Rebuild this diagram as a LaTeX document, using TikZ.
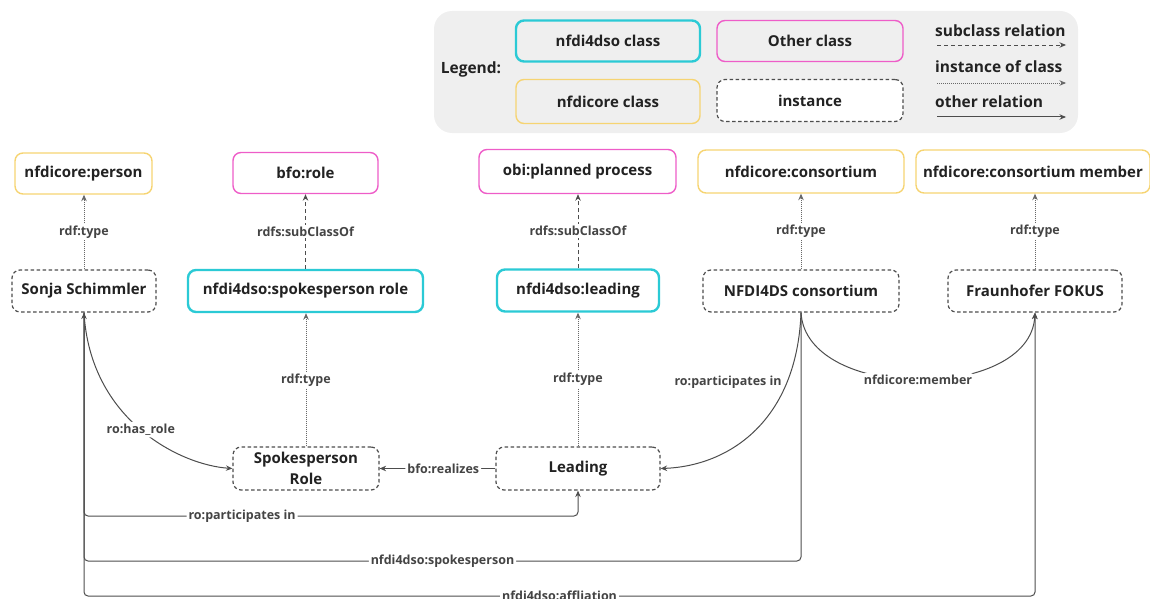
\documentclass[tikz,border=0pt]{standalone}
\usepackage{fontspec}
\setmainfont{Open Sans}
\usetikzlibrary{arrows.meta,calc}
\definecolor{cyanb}{HTML}{2BCAD5}
\definecolor{magb}{HTML}{EE5DC8}
\definecolor{yelb}{HTML}{F6D472}
\definecolor{legbg}{HTML}{EFEFEF}
\definecolor{ec}{HTML}{4D4D4D}
\definecolor{tc}{HTML}{222222}
\definecolor{lc}{HTML}{444444}
\tikzset{
 base/.style={rounded corners=8pt, minimum height=42pt, inner sep=2pt, font=\fontsize{15}{18}\selectfont\bfseries, text=tc, fill=white, align=center},
 d4/.style={base, draw=cyanb, line width=2.4pt},
 oth/.style={base, draw=magb, line width=1.4pt},
 core/.style={base, draw=yelb, line width=1.4pt},
 inst/.style={base, draw=ec, line width=1.2pt, dash pattern=on 3.5pt off 2.5pt},
 lbl/.style={font=\fontsize{12.5}{14}\selectfont\bfseries, text=lc, fill=white, inner sep=2pt},
 legtxt/.style={font=\fontsize{15.5}{18}\selectfont\bfseries, text=tc, inner sep=0pt},
 tip/.style={-{Stealth[length=6.5pt,width=5.5pt]}},
 subc/.style={tip, draw=ec, line width=0.9pt, dash pattern=on 4pt off 3pt},
 typ/.style={tip, draw=ec!85, line width=0.9pt, dash pattern=on 1pt off 1pt},
 rel/.style={tip, draw=ec, line width=1pt, rounded corners=4pt},
}
\begin{document}
\begin{tikzpicture}[x=1pt,y=-1pt]
\useasboundingbox (0,0) rectangle (1150,599);
% legend
\node[fill=legbg, rounded corners=18pt, minimum width=644pt, minimum height=122pt, inner sep=0] (legend) at (756,72) {};
\node[legtxt] (legt) at (471,69) {Legend:};
\node[d4, fill=legbg, minimum width=184pt, minimum height=41pt] (ld4) at (608,41) {nfdi4dso class};
\node[oth, fill=legbg, minimum width=186pt, minimum height=41pt] (loth) at (810,41) {Other class};
\node[core, fill=legbg, minimum width=184pt, minimum height=44pt] (lcore) at (608,101.5) {nfdicore class};
\node[inst, minimum width=186pt, minimum height=42pt] (linst) at (810,100.5) {instance};
\node[legtxt, anchor=west] (ls) at (935,31) {subclass relation};
\node[legtxt, anchor=west] (li) at (935,67) {instance of class};
\node[legtxt, anchor=west] (lo) at (935,102) {other relation};
\coordinate (ls1) at (937,45); \coordinate (ls2) at (1066,45);
\coordinate (li1) at (937,83); \coordinate (li2) at (1066,83);
\coordinate (lo1) at (937,117); \coordinate (lo2) at (1066,117);
\draw[subc] (ls1) -- (ls2);
\draw[typ] (li1) -- (li2);
\draw[rel] (lo1) -- (lo2);
% class row
\node[core, minimum width=137pt, minimum height=41pt] (person) at (83.5,173.5) {nfdicore:person};
\node[oth, minimum width=145pt, minimum height=41pt] (bforole) at (305.5,173) {bfo:role};
\node[oth, minimum width=197pt, minimum height=44pt] (obi) at (577.5,171.5) {obi:planned process};
\node[core, minimum width=206pt, minimum height=43pt] (cons) at (801,171.5) {nfdicore:consortium};
\node[core, minimum width=234pt, minimum height=43pt] (consm) at (1033,171.5) {nfdicore:consortium member};
% second row
\node[inst, minimum width=144pt] (sonja) at (84,291) {Sonja Schimmler};
\node[d4, minimum width=235pt] (sprole) at (305.5,291) {nfdi4dso:spokesperson role};
\node[d4, minimum width=162pt] (lead) at (578,290.5) {nfdi4dso:leading};
\node[inst, minimum width=196pt] (nfd) at (801,291) {NFDI4DS consortium};
\node[inst, minimum width=174pt] (fokus) at (1035,291) {Fraunhofer FOKUS};
% third row
\node[inst, minimum width=146pt, minimum height=43pt, font=\fontsize{15}{21}\selectfont\bfseries] (spr) at (306,468.5) {Spokesperson\\Role};
\node[inst, minimum width=164pt, minimum height=43pt] (leadi) at (578,468.5) {Leading};
% type / subclass edges
\draw[typ] (sonja.north) -- node[lbl]{rdf:type} (sonja.north |- person.south);
\draw[subc] (sprole.north) -- node[lbl]{rdfs:subClassOf} (sprole.north |- bforole.south);
\draw[subc] (lead.north) -- node[lbl]{rdfs:subClassOf} (lead.north |- obi.south);
\draw[typ] (nfd.north) -- node[lbl]{rdf:type} (cons.south);
\draw[typ] (fokus.north) -- node[lbl]{rdf:type} (fokus.north |- consm.south);
\draw[typ] (spr.north) -- node[lbl]{rdf:type} (spr.north |- sprole.south);
\draw[typ] (leadi.north) -- node[lbl]{rdf:type} (leadi.north |- lead.south);
% relations
\draw[rel] (sonja.south) .. controls (90,420) and (180,465) .. node[lbl, pos=0.5]{ro:has\_role} (spr.west);
\draw[rel] (leadi.west) -- node[lbl, pos=0.45]{bfo:realizes} (spr.east);
\draw[rel] (nfd.south) .. controls (797,420) and (730,466) .. node[lbl, pos=0.25, anchor=east, fill=none, xshift=-3pt]{ro:participates in} (leadi.east);
\draw[rel] (nfd.south) .. controls (806,402) and (1030,402) .. node[lbl]{nfdicore:member} (fokus.south);
\coordinate (pa1) at (84,516); \coordinate (pa2) at (578,516);
\draw[rel] (sonja.south) -- (pa1) -- node[lbl, pos=0.32]{ro:participates in} (pa2) -- (leadi.south);
\coordinate (sp1) at (801,561); \coordinate (sp2) at (84,561);
\draw[rel] (nfd.south) -- (sp1) -- node[lbl, pos=0.5]{nfdi4dso:spokesperson} (sp2) -- (sonja.south);
\coordinate (af1) at (84,596); \coordinate (af2) at (1035,596);
\draw[rel] (sonja.south) -- (af1) -- node[lbl, pos=0.5]{nfdi4dso:affliation} (af2) -- (fokus.south);
\end{tikzpicture}
\end{document}
